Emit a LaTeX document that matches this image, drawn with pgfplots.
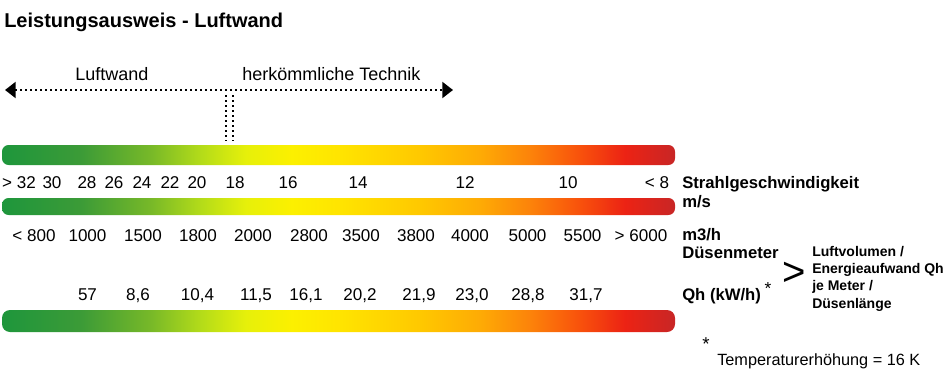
\documentclass[border=0pt]{standalone}
\usepackage{fontspec}
\setmainfont{Liberation Sans}
\usepackage{pgfplots}
\pgfplotsset{compat=1.18}
\usepackage{pgfplotstable}
\usetikzlibrary{arrows.meta}

\definecolor{s00}{RGB}{30,150,60}
\definecolor{s01}{RGB}{60,155,55}
\definecolor{s02}{RGB}{120,185,40}
\definecolor{s03}{RGB}{180,220,25}
\definecolor{s04}{RGB}{230,240,10}
\definecolor{s05}{RGB}{252,240,0}
\definecolor{s06}{RGB}{255,228,0}
\definecolor{s07}{RGB}{255,200,0}
\definecolor{s08}{RGB}{254,170,5}
\definecolor{s09}{RGB}{252,130,10}
\definecolor{s10}{RGB}{248,80,12}
\definecolor{s11}{RGB}{236,35,20}
\definecolor{s12}{RGB}{200,38,38}

\pgfdeclarehorizontalshading{luft}{100bp}{%
color(0bp)=(s00); color(25bp)=(s00); color(30.9bp)=(s01); color(36.1bp)=(s02);
color(39.8bp)=(s03); color(43.1bp)=(s04); color(46.5bp)=(s05); color(50.2bp)=(s06);
color(56.1bp)=(s07); color(60.6bp)=(s08); color(64.3bp)=(s09); color(68bp)=(s10);
color(71.3bp)=(s11); color(75bp)=(s12); color(100bp)=(s12)}

\newcommand\numfont{\fontsize{12.8pt}{15pt}\selectfont}
\newcommand\labfont{\fontsize{12.5pt}{15pt}\selectfont\bfseries}

\pgfplotstableread[col sep=semicolon]{
x;y;t
19;188;> 32
52;188;30
87;188;28
114;188;26
142;188;24
170;188;22
197;188;20
235;188;18
288;188;16
358;188;14
465;188;12
568;188;10
657;188;< 8
}\speedtab

\pgfplotstableread[col sep=semicolon]{
x;y;t
34;241;< 800
87.5;241;1000
143;241;1500
198;241;1800
253;241;2000
309;241;2800
361;241;3500
416;241;3800
470;241;4000
527.5;241;5000
582.5;241;5500
641;241;> 6000
}\volumetab

\pgfplotstableread[col sep=semicolon]{
x;y;t
87.5;300;57
138;300;8,6
197.5;300;10,4
256;300;11,5
306;300;16,1
360;300;20,2
419;300;21,9
472;300;23,0
528;300;28,8
586;300;31,7
}\qhtab

\begin{document}
\begin{tikzpicture}
\begin{axis}[
  width=712.5pt, height=278.25pt, scale only axis,
  xmin=0, xmax=950, ymin=0, ymax=371, y dir=reverse,
  hide axis, clip=false,
  rowlabels/.style={draw=none, mark=none, nodes near coords,
    point meta=explicit symbolic,
    every node near coord/.style={anchor=base, font=\numfont, text=black, inner sep=0pt}},
  dotline/.style={black, line width=1.5pt, dash pattern=on 1.5pt off 2.25pt},
]
% invisible frame for bounding box
\addplot[draw=none, mark=none] coordinates {(0,0) (950,371)};

% gradient bars
\addplot[draw=none, shading=luft, rounded corners=5pt] coordinates {(300,145) (675,145) (675,165) (2,165) (2,145) (300,145)};
\addplot[draw=none, shading=luft, rounded corners=5pt] coordinates {(300,198) (675,198) (675,215) (2,215) (2,198) (300,198)};
\addplot[draw=none, shading=luft, rounded corners=6pt] coordinates {(300,310) (675,310) (675,332) (2,332) (2,310) (300,310)};

% dotted arrow
\addplot[dotline,
  {Triangle[length=8pt,width=12pt]}-{Triangle[length=8pt,width=12pt]}] coordinates {(5,90) (453,90)};
\addplot[dotline] coordinates {(225.5,95) (225.5,141)};
\addplot[dotline] coordinates {(232.5,95) (232.5,141)};

% value rows
\addplot[rowlabels] table[x=x, y=y, meta=t] {\speedtab};
\addplot[rowlabels] table[x=x, y=y, meta=t] {\volumetab};
\addplot[rowlabels] table[x=x, y=y, meta=t] {\qhtab};

% texts
\node[anchor=base west, inner sep=0pt, font=\fontsize{15pt}{18pt}\selectfont\bfseries] at (axis cs:4,27) {Leistungsausweis - Luftwand};
\node[anchor=base west, inner sep=0pt, font=\fontsize{13.5pt}{16pt}\selectfont] at (axis cs:75,80) {Luftwand};
\node[anchor=base west, inner sep=0pt, font=\fontsize{13.5pt}{16pt}\selectfont] at (axis cs:242,80) {herkömmliche Technik};

\node[anchor=base west, inner sep=0pt, font=\labfont] at (axis cs:682,188) {Strahlgeschwindigkeit};
\node[anchor=base west, inner sep=0pt, font=\labfont] at (axis cs:682,207) {m/s};
\node[anchor=base west, inner sep=0pt, font=\labfont] at (axis cs:682,240) {m3/h};
\node[anchor=base west, inner sep=0pt, font=\labfont] at (axis cs:682,258) {Düsenmeter};
\node[anchor=base west, inner sep=0pt, font=\labfont] at (axis cs:682,300) {Qh (kW/h)};
\node[anchor=center, inner sep=0pt, font=\fontsize{13pt}{15pt}\selectfont] at (axis cs:768,289) {*};

\node[anchor=center, inner sep=0pt, font=\fontsize{30pt}{32pt}\selectfont] at (axis cs:794,274) {>};

\node[anchor=base west, inner sep=0pt, align=left, font=\fontsize{10.5pt}{12.8pt}\selectfont\bfseries] at (axis cs:812,308) {Luftvolumen /\\Energieaufwand Qh\\je Meter /\\Düsenlänge};

\node[anchor=center, inner sep=0pt, font=\fontsize{14pt}{16pt}\selectfont] at (axis cs:706,344) {*};
\node[anchor=base west, inner sep=0pt, font=\fontsize{12.2pt}{15pt}\selectfont] at (axis cs:717,365) {Temperaturerhöhung = 16 K};
\end{axis}
\end{tikzpicture}
\end{document}
